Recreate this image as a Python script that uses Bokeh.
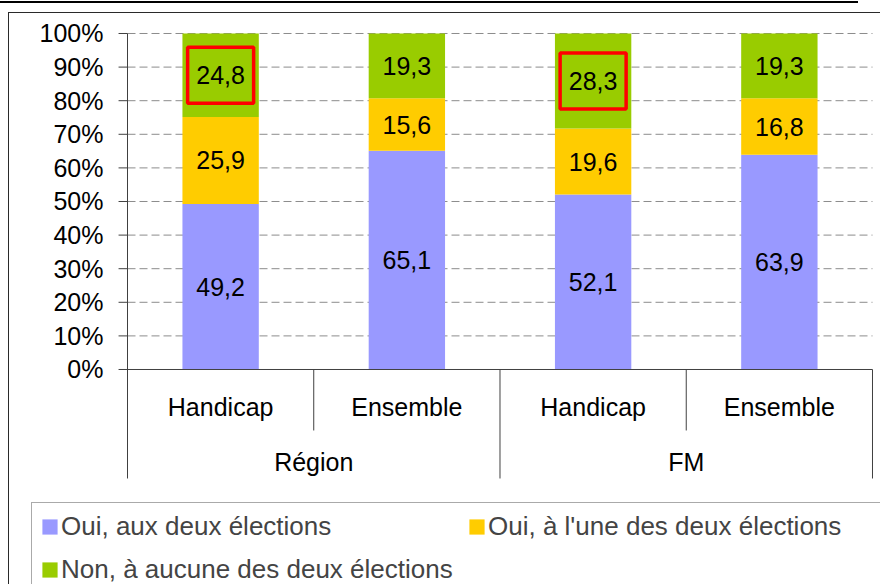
from bokeh.plotting import figure
from bokeh.models import ColumnDataSource, Range1d, Legend, LegendItem
from bokeh.core.properties import value
from bokeh.embed import file_html
from bokeh.resources import INLINE

# ---------------- data ----------------
GROUPS = ["Région", "Région", "FM", "FM"]
SUBCATS = ["Handicap", "Ensemble", "Handicap", "Ensemble"]
SERIES = ["Oui, aux deux élections",
          "Oui, à l'une des deux élections",
          "Non, à aucune des deux élections"]
OUI_DEUX = [49.2, 65.1, 52.1, 63.9]
OUI_UNE = [25.9, 15.6, 19.6, 16.8]
NON = [24.8, 19.3, 28.3, 19.3]
HIGHLIGHT = [True, False, True, False]   # boxed labels on the "Non" series
TICKS = [0, 10, 20, 30, 40, 50, 60, 70, 80, 90, 100]

# ---------------- layout / style ----------------
COLORS = ["#9999FF", "#FFCC00", "#99CC00"]
FONT = "Liberation Sans"
AXIS_COLOR = "#404040"
# data window covering the whole canvas (axis at x=0, 0% .. 100% on y)
X_START, X_END = -0.6819, 4.0430
Y_START, Y_END = -63.99, 109.82
Y_SEP_BOTTOM = -32.44     # bottom of the outer category separators
INNER_SEP_Y = -18.15
SUB_LABEL_Y = -11.3
GROUP_LABEL_Y = -27.4
TICK_LEN = 0.048          # tick mark length (x units)
TICK_LABEL_X = -0.129     # right edge of the y tick labels

series_vals = [OUI_DEUX, OUI_UNE, NON]
n = len(SUBCATS)
xs = [i + 0.5 for i in range(n)]
totals = [sum(v[i] for v in series_vals) for i in range(n)]
pct = [[v[i] / totals[i] * 100 for i in range(n)] for v in series_vals]

src = ColumnDataSource(dict(x=xs, s0=pct[0], s1=pct[1], s2=pct[2]))

p = figure(width=880, height=584, x_range=Range1d(X_START, X_END),
           y_range=Range1d(Y_START, Y_END), output_backend="svg", toolbar_location=None,
           x_axis_location=None, y_axis_location=None,
           min_border_left=0, min_border_right=0, min_border_top=0, min_border_bottom=0)
p.outline_line_color = None
p.border_fill_color = None
p.background_fill_color = None
p.grid.visible = False
# chart-area frame lines and the rule at the very top (page decoration)
p.styles = {
    "background": ("linear-gradient(#000,#000) 0px 1px / 858px 2px no-repeat, "
                   "linear-gradient(#2a2a2a,#2a2a2a) 8px 12px / 1px 100% no-repeat, "
                   "linear-gradient(#2a2a2a,#2a2a2a) 8px 12px / 100% 1px no-repeat, "
                   "#ffffff")
}

# dashed horizontal gridlines
grid_y = TICKS[1:]
p.segment(x0=[0] * len(grid_y), y0=grid_y, x1=[n] * len(grid_y), y1=grid_y,
          line_color="#8c8c8c", line_dash="8 4", line_width=1)

# stacked bars
renderers = p.vbar_stack(["s0", "s1", "s2"], x="x", width=0.41, color=COLORS,
                         line_color=None, source=src)

# y axis: line, ticks, labels
p.segment(x0=[0], y0=[100], x1=[0], y1=[Y_SEP_BOTTOM], line_color=AXIS_COLOR, line_width=1)
p.segment(x0=[-TICK_LEN] * len(TICKS), y0=TICKS, x1=[0] * len(TICKS), y1=TICKS,
          line_color=AXIS_COLOR, line_width=1)
p.text(x=[TICK_LABEL_X] * len(TICKS), y=TICKS, text=[f"{t}%" for t in TICKS],
       text_font=value(FONT), text_font_size="25px", text_align="right",
       text_baseline="middle", text_color="black")

# horizontal axis line
p.segment(x0=[0], y0=[0], x1=[n], y1=[0], line_color=AXIS_COLOR, line_width=1)

# data labels
lx, ly, lt = [], [], []
for si, vals in enumerate(series_vals):
    for i in range(n):
        bottom = sum(pct[k][i] for k in range(si))
        lx.append(xs[i])
        ly.append(bottom + pct[si][i] / 2)
        lt.append(f"{vals[i]:.1f}".replace(".", ","))
p.text(x=lx, y=ly, text=lt, text_font=value(FONT), text_font_size="25px",
       text_align="center", text_baseline="middle", text_color="black")

# red boxes around highlighted labels
bx, by = [], []
for i in range(n):
    if HIGHLIGHT[i]:
        bottom = pct[0][i] + pct[1][i]
        bx.append(xs[i])
        by.append(bottom + pct[2][i] / 2)
p.rect(x=bx, y=by, width=66, height=56, width_units="screen", height_units="screen",
       fill_alpha=0, line_color="#FF0000", line_width=3.5)

# category separators
sx0, sy1 = [], []
for i in range(1, n):
    sx0.append(float(i))
    sy1.append(INNER_SEP_Y if GROUPS[i] == GROUPS[i - 1] else Y_SEP_BOTTOM)
sx0.append(float(n))
sy1.append(Y_SEP_BOTTOM)
p.segment(x0=sx0, y0=[0] * len(sx0), x1=sx0, y1=sy1, line_color=AXIS_COLOR, line_width=1)

# category labels
p.text(x=xs, y=[SUB_LABEL_Y] * n, text=SUBCATS, text_font=value(FONT), text_font_size="25px",
       text_align="center", text_baseline="middle", text_color="black")
gnames, gx = [], []
for g in dict.fromkeys(GROUPS):
    idx = [i for i in range(n) if GROUPS[i] == g]
    gnames.append(g)
    gx.append((idx[0] + idx[-1] + 1) / 2)
p.text(x=gx, y=[GROUP_LABEL_Y] * len(gx), text=gnames, text_font=value(FONT),
       text_font_size="25px", text_align="center", text_baseline="middle", text_color="black")

# legend
legend = Legend(items=[LegendItem(label=SERIES[i], renderers=[renderers[i]]) for i in range(3)],
                location=(31, -10), orientation="horizontal", ncols=2,
                label_text_font=FONT, label_text_font_size="26px",
                glyph_width=19, glyph_height=19, label_height=26, label_width=394,
                label_standoff=2, spacing=12, padding=8, margin=0,
                border_line_color="#555555", border_line_width=1,
                background_fill_color="white", background_fill_alpha=1)
p.add_layout(legend)

open("out.html", "w").write(file_html(p, INLINE))
